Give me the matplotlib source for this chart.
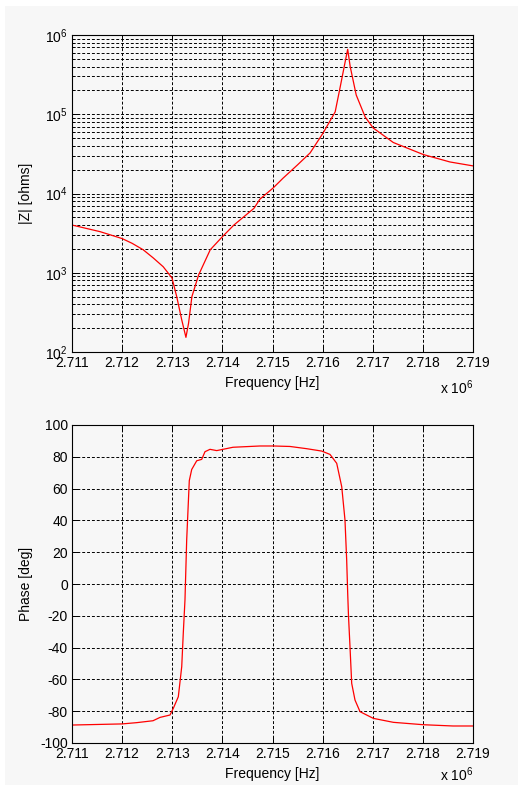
import numpy as np
import matplotlib
matplotlib.use("Agg")
import matplotlib.pyplot as plt
from matplotlib.ticker import FuncFormatter, LogLocator, MultipleLocator
from matplotlib.patches import Rectangle

plt.rcParams['font.family'] = ['Liberation Sans', 'DejaVu Sans']
plt.rcParams['mathtext.fontset'] = 'custom'
plt.rcParams['mathtext.rm'] = 'Liberation Sans'
plt.rcParams['mathtext.it'] = 'Liberation Sans'
plt.rcParams['mathtext.bf'] = 'Liberation Sans'
plt.rcParams['axes.unicode_minus'] = False

# impedance magnitude
freq_mag = np.array([2.711000, 2.711560, 2.712000, 2.712200, 2.712420, 2.712620, 2.712820,
                     2.712995, 2.713089, 2.713189, 2.713273, 2.713325, 2.713392, 2.713525,
                     2.713758, 2.714000, 2.714230, 2.714630, 2.714750, 2.715010, 2.715210,
                     2.715500, 2.715750, 2.716010, 2.716250, 2.716350, 2.716450, 2.716500,
                     2.716550, 2.716670, 2.716850, 2.717010, 2.717410, 2.718010, 2.718540,
                     2.719000]) * 1e6
z_mag = [4000, 3300, 2700, 2350, 1950, 1540, 1190,
         860, 500, 255, 153, 230, 500, 935,
         1950, 2850, 4000, 6500, 8500, 11700, 15600,
         23000, 32500, 58000, 107000, 220000, 460000, 660000,
         400000, 175000, 92000, 67000, 44000, 31000, 25000,
         22300]

# phase
freq_ph = np.array([2.711000, 2.712000, 2.712291, 2.712616, 2.712756, 2.712955, 2.713021,
                    2.713121, 2.713189, 2.713220, 2.713254, 2.713288, 2.713340, 2.713388,
                    2.713488, 2.713588, 2.713653, 2.713753, 2.713887, 2.714012, 2.714212,
                    2.714751, 2.715016, 2.715349, 2.715682, 2.715982, 2.716147, 2.716281,
                    2.716381, 2.716446, 2.716480, 2.716500, 2.716516, 2.716546, 2.716580,
                    2.716646, 2.716746, 2.717011, 2.717411, 2.718008, 2.718601, 2.719000]) * 1e6
phase = [-88.7, -88.0, -87.2, -86.0, -83.9, -82.4, -78.2,
         -70.9, -52.0, -31.0, -10.0, 27.7, 65.0, 72.0,
         77.5, 78.4, 83.2, 84.7, 83.9, 84.7, 86.0,
         86.8, 86.8, 86.5, 85.1, 83.6, 81.5, 75.9,
         61.2, 40.3, 15.0, -5.7, -20.0, -39.4, -62.5,
         -73.0, -80.3, -84.5, -87.0, -88.5, -89.3, -89.3]

xticks = np.arange(2.711, 2.7191, 0.001) * 1e6
bg = '#f7f7f7'
W, H = 518, 785

fig = plt.figure(figsize=(W / 100, H / 100), dpi=100, facecolor='white')
fig.add_artist(Rectangle((5 / W, 0), 1 - 5 / W, 1 - 6 / H, transform=fig.transFigure,
                         facecolor=bg, edgecolor='none', zorder=-10))

left = 72 / W
width = (473 - 72) / W
ax1 = fig.add_axes([left, 1 - 352 / H, width, (352 - 35) / H])
ax2 = fig.add_axes([left, 1 - 743 / H, width, (743 - 425) / H])

grid_kw = dict(color='black', linestyle=(0, (3, 2)), linewidth=0.7)

def style(ax, off_y):
    ax.set_facecolor(bg)
    ax.set_xlim(xticks[0], xticks[-1])
    ax.set_xticks(xticks)
    ax.xaxis.set_major_formatter(FuncFormatter(lambda v, p: '%.3f' % (v / 1e6)))
    ax.tick_params(which='both', direction='in', top=True, right=True,
                   labelsize=10, colors='black')
    ax.tick_params(which='major', length=4, width=0.7)
    ax.tick_params(which='minor', length=2, width=0.6)
    ax.tick_params(axis='x', pad=3)
    ax.tick_params(axis='y', pad=3)
    for s in ax.spines.values():
        s.set_linewidth(0.8)
        s.set_color('black')
    ax.set_axisbelow(True)
    ax.set_xlabel('Frequency [Hz]', fontsize=10)
    ax.xaxis.set_label_coords(0.5, -0.075)
    ax.text(1.0, off_y, r'x 10$^{6}$', transform=ax.transAxes, ha='right',
            va='baseline', fontsize=10)

# magnitude
ax1.semilogy(freq_mag, z_mag, color='red', linewidth=0.9)
style(ax1, -0.1325)
ax1.set_ylim(1e2, 1e6)
ax1.yaxis.set_major_locator(LogLocator(base=10, numticks=10))
ax1.yaxis.set_minor_locator(LogLocator(base=10, subs=np.arange(2, 10), numticks=20))
ax1.grid(True, which='both', **grid_kw)
ax1.set_ylabel('|Z| [ohms]', fontsize=10)
ax1.yaxis.set_label_coords(-0.097, 0.5)

# phase
ax2.plot(freq_ph, phase, color='red', linewidth=0.9)
style(ax2, -0.118)
ax2.set_ylim(-100, 100)
ax2.yaxis.set_major_locator(MultipleLocator(20))
ax2.grid(True, which='major', **grid_kw)
ax2.set_ylabel('Phase [deg]', fontsize=10)
ax2.yaxis.set_label_coords(-0.097, 0.5)

fig.savefig('out.png', dpi=100, facecolor='white')
